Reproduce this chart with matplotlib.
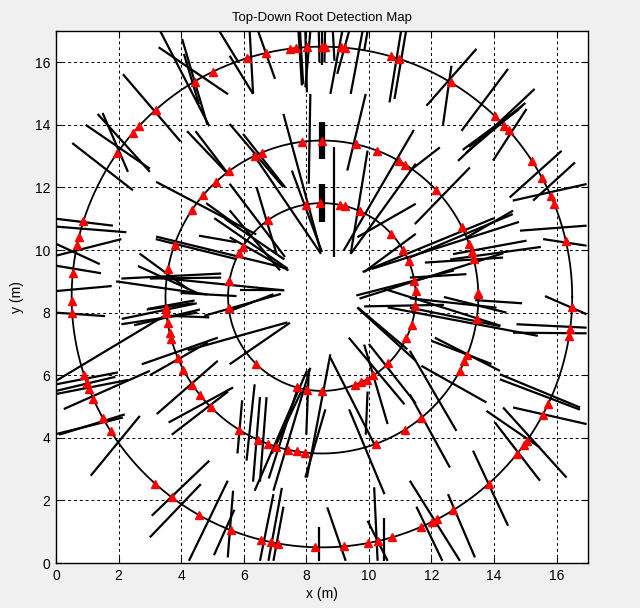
import numpy as np
import matplotlib
matplotlib.use("Agg")
import matplotlib.pyplot as plt
from matplotlib.collections import LineCollection

plt.rcParams['font.family'] = ['Liberation Sans', 'DejaVu Sans']

title = "Top-Down Root Detection Map"
x_label = "x (m)"
y_label = "y (m)"
x_ticks = [0, 2, 4, 6, 8, 10, 12, 14, 16]
y_ticks = [0, 2, 4, 6, 8, 10, 12, 14, 16]

center = (8.5, 8.5)
scan_radii = [3, 5, 8]

# detections (red triangles): angles in degrees on each scan circle
inner_angles = [3.7, 9.9, 22.3, 30, 42.5, 66, 76, 79, 91, 100, 125, 147.6, 151.8,
                170.3, 186.6, 225.8, 254.5, 260.8, 270.2, 290.7, 294.8, 298.4,
                303.3, 315, 333.8, 342.8, 354.3]
middle_angles = [1, 1.6, 14, 16.6, 19.9, 26.7, 43.2, 57.8, 60.6, 69.2, 77.6, 90, 97.5,
                 112.7, 115.5, 126.5, 132.5, 139.3, 146.2, 160.4, 169.8, 183.9, 185.7,
                 189.4, 193.2, 195.7, 203, 207.6, 214, 218.8, 224.8, 238, 245.8, 249.7,
                 252.9, 257.5, 260.7, 263.8, 290.4, 302, 309.1, 331.8, 335.7, 338.4, 351.8]
outer_angles = [13, 21.9, 23.9, 28.5, 33, 41.7, 43.2, 46.3, 59, 72, 74, 84.6, 85.7, 89.3,
                90, 93.4, 96, 97.3, 103, 107.5, 115.8, 120.6, 131.6, 137, 139, 144.8,
                162.3, 166.2, 168, 174.5, 181, 183.6, 198.2, 200, 201.6, 204, 209, 212.4,
                228.3, 233.2, 240.5, 248.6, 256, 258.3, 260, 268.5, 275, 280.6, 282.9,
                286.2, 293.2, 296.1, 297.3, 301.7, 311.8, 321.1, 323.8, 324.9, 332,
                334.8, 351, 352.6, 357.6]

# root segments (x0, y0, x1, y1)
roots_upper_left = [
    (3.33, 17.0, 4.9, 13.96), (3.28, 16.48, 5.5, 14.98), (4.03, 16.75, 4.84, 14.0),
    (4.09, 16.27, 4.57, 14.66), (5.22, 17.0, 5.8, 16.05), (2.14, 15.62, 3.98, 13.47),
    (1.33, 14.35, 3.0, 12.5), (1.49, 14.38, 2.3, 12.5), (0.95, 14.0, 3.0, 12.6),
    (0.52, 13.42, 2.46, 11.91), (3.2, 12.18, 6.4, 10.5), (4.19, 13.8, 5.43, 12.5),
    (4.46, 13.8, 5.53, 12.4), (0.0, 11.0, 1.82, 10.78), (0.0, 10.75, 2.25, 10.57),
    (0.0, 10.2, 1.4, 9.55), (0.0, 9.5, 1.44, 9.26), (0.0, 9.82, 2.09, 10.35),
    (0.0, 8.69, 1.78, 8.85), (1.92, 9.0, 4.84, 8.58), (2.62, 9.49, 4.51, 8.63),
    (3.0, 9.09, 5.28, 9.12), (3.19, 10.35, 5.77, 9.71), (4.57, 10.46, 5.77, 10.25),
    (3.98, 8.63, 5.77, 8.53), (4.8, 11.5, 5.77, 10.8),
]
roots_upper_mid = [
    (6.19, 17.0, 6.3, 14.99), (6.46, 17.0, 7.0, 15.47), (5.55, 16.21, 6.3, 14.99),
    (7.75, 17.0, 7.86, 15.26), (7.8, 17.0, 7.9, 15.3), (7.97, 17.0, 8.02, 15.04),
    (8.13, 17.0, 7.97, 15.2), (8.4, 17.0, 8.42, 16.0), (8.5, 17.0, 8.5, 15.9),
    (8.6, 17.0, 8.58, 16.0), (8.85, 17.0, 8.9, 16.05), (9.15, 17.0, 8.77, 14.99),
    (9.37, 17.0, 8.99, 15.63), (9.8, 17.0, 9.42, 14.99), (9.96, 17.0, 9.85, 16.36),
    (11.03, 17.0, 10.66, 14.72), (11.19, 17.0, 10.82, 14.83), (8.13, 14.99, 8.08, 12.12),
    (7.27, 14.35, 8.47, 9.94), (7.54, 12.54, 8.5, 9.94), (8.88, 13.29, 8.88, 9.78),
    (9.9, 14.99, 9.31, 12.54), (9.96, 13.18, 9.42, 9.88), (9.2, 9.99, 11.44, 13.84),
    (9.42, 9.88, 11.5, 12.76), (9.85, 9.3, 11.5, 10.52), (9.63, 10.41, 11.5, 11.48),
    (5.55, 14.03, 7.27, 12.01), (5.98, 13.71, 7.32, 12.01), (6.3, 13.07, 8.47, 9.88),
    (6.41, 12.01, 7.05, 9.88), (5.55, 12.12, 7.32, 9.78), (5.55, 11.27, 7.16, 9.35),
    (5.55, 10.41, 7.43, 9.35), (5.87, 8.71, 7.27, 8.71),
]
roots_upper_right = [
    (11.84, 14.61, 13.44, 16.43), (12.37, 14.0, 12.64, 15.89), (12.96, 13.81, 14.45, 15.79),
    (12.85, 12.85, 15.3, 15.15), (13.0, 13.2, 14.9, 14.6), (13.1, 13.1, 15.0, 14.7),
    (13.2, 13.3, 14.8, 14.5), (13.97, 12.86, 15.04, 14.51), (14.5, 11.68, 16.16, 13.17),
    (15.25, 11.58, 16.59, 12.8), (14.6, 11.58, 16.96, 12.11), (14.83, 10.62, 16.96, 10.78),
    (15.57, 10.35, 16.96, 10.14), (11.47, 10.83, 13.23, 12.64), (11.3, 12.53, 12.27, 13.28),
    (11.3, 9.76, 14.6, 11.15), (11.79, 9.6, 14.29, 9.76), (12.69, 9.87, 15.04, 10.3),
    (13.12, 10.4, 14.61, 11.26), (11.31, 9.12, 13.12, 9.23),
]
roots_center_left = [
    (2.09, 9.09, 5.28, 9.25), (3.04, 9.14, 7.3, 8.71), (2.67, 9.89, 4.21, 8.76),
    (3.2, 10.43, 7.4, 9.41), (5.06, 11.02, 7.4, 9.41), (5.4, 11.0, 7.3, 9.7),
    (4.74, 7.9, 7.19, 8.6), (2.94, 8.12, 4.43, 8.39), (2.1, 7.8, 4.5, 8.3),
    (2.5, 7.6, 4.6, 8.1), (4.21, 6.8, 7.4, 7.69),
]
roots_center_right = [
    (9.8, 9.3, 14.0, 11.02), (10.1, 9.4, 14.8, 10.9), (9.6, 8.55, 12.72, 9.35),
    (9.7, 8.45, 14.3, 9.9), (10.49, 8.76, 14.21, 7.58), (9.85, 8.2, 12.4, 8.25),
    (10.6, 8.17, 15.4, 7.26), (9.64, 8.17, 11.23, 6.83), (12.6, 9.7, 15.5, 10.1),
    (13.4, 8.4, 14.9, 8.3),
]
roots_lower_left = [
    (0.0, 8.0, 1.57, 7.89), (2.09, 7.63, 4.52, 8.0), (2.9, 8.1, 4.4, 8.3),
    (3.6, 7.9, 4.9, 7.85), (0.0, 5.82, 3.55, 7.95), (0.0, 5.71, 1.98, 6.09),
    (0.0, 5.5, 1.9, 5.95), (0.0, 5.4, 2.3, 5.85), (0.25, 4.92, 3.0, 6.14),
    (0.0, 4.12, 2.14, 4.65), (0.1, 4.1, 2.2, 4.75), (2.74, 6.35, 5.17, 7.2),
    (3.0, 6.0, 4.85, 7.05), (3.22, 4.76, 5.17, 6.46), (3.6, 4.49, 5.66, 5.61),
    (3.7, 4.1, 5.5, 5.48), (1.11, 2.79, 2.68, 4.7), (3.06, 1.51, 4.9, 3.27),
    (3.0, 0.82, 4.63, 2.52), (4.25, 0.07, 5.49, 2.63), (5.05, 0.25, 5.7, 1.7),
    (5.49, 0.18, 5.66, 2.31),
]
roots_lower_mid = [
    (5.55, 8.05, 6.95, 8.59), (5.55, 6.35, 7.48, 7.68), (9.63, 8.16, 11.5, 6.46),
    (9.36, 7.2, 11.14, 5.07), (9.85, 6.98, 10.6, 4.44), (10.0, 7.0, 11.5, 5.1),
    (8.77, 6.67, 8.02, 2.73), (8.77, 6.56, 10.23, 3.69), (8.13, 6.24, 6.95, 2.31),
    (8.02, 6.14, 6.35, 2.31), (7.85, 5.5, 6.9, 3.5), (7.7, 5.5, 6.8, 2.7),
    (8.08, 6.2, 8.0, 4.1), (8.61, 4.91, 7.97, 2.73), (9.37, 4.91, 10.5, 2.2),
    (9.96, 5.48, 9.9, 4.1), (6.35, 5.71, 6.09, 3.27), (6.52, 5.3, 6.3, 2.6),
    (6.73, 5.3, 6.52, 2.6), (5.95, 5.2, 5.8, 3.5), (6.95, 2.2, 6.52, 0.07),
    (7.22, 2.4, 6.79, 0.07), (7.27, 1.8, 6.95, 0.07), (8.4, 1.14, 8.4, 0.07),
    (8.67, 1.78, 9.26, 0.07), (10.17, 2.42, 10.28, 0.07), (9.96, 1.35, 10.6, 0.07),
    (10.5, 1.45, 10.5, 0.07),
]
roots_lower_right = [
    (11.31, 8.46, 14.08, 8.16), (11.31, 8.16, 14.19, 7.57), (12.4, 8.5, 14.4, 8.0),
    (15.63, 8.53, 16.96, 7.95), (14.72, 7.63, 16.96, 7.52), (14.61, 7.36, 16.96, 7.34),
    (12.11, 7.2, 14.19, 6.14), (12.0, 7.1, 13.92, 6.36), (11.68, 6.3, 13.76, 5.13),
    (14.19, 6.03, 16.75, 4.97), (14.19, 5.87, 16.75, 4.9), (11.31, 6.78, 12.8, 4.22),
    (11.31, 5.39, 12.59, 3.05), (14.61, 4.97, 16.96, 4.44), (14.29, 4.97, 16.32, 2.73),
    (13.76, 4.86, 15.47, 3.69), (14.03, 4.49, 15.47, 2.63), (13.33, 3.59, 14.45, 1.19),
    (12.53, 2.2, 13.39, 0.18), (11.31, 2.63, 12.91, 0.07), (11.52, 1.8, 12.35, 0.07),
]
# thick vertical root pieces (x, y_bottom, y_top)
thick_roots = [(8.5, 12.9, 14.1), (8.5, 10.9, 12.1)]

fig = plt.figure(figsize=(6.4, 6.08), dpi=100, facecolor='#f0f0f0')
ax = fig.add_axes([0.0875, 0.074, 0.831, 0.875])
ax.set_facecolor('white')

all_roots = (roots_upper_left + roots_upper_mid + roots_upper_right +
             roots_center_left + roots_center_right +
             roots_lower_left + roots_lower_mid + roots_lower_right)
segs = [[(a, b), (c, d)] for a, b, c, d in all_roots]
ax.add_collection(LineCollection(segs, colors='black', linewidths=1.6, zorder=3,
                                 capstyle='butt'))
for x, y0, y1 in thick_roots:
    ax.plot([x, x], [y0, y1], color='black', lw=4.5, solid_capstyle='butt', zorder=3)

t = np.linspace(0, 2 * np.pi, 400)
for r in scan_radii:
    ax.plot(center[0] + r * np.cos(t), center[1] + r * np.sin(t), color='black',
            lw=1.3, zorder=3)

for r, angs in zip(scan_radii, [inner_angles, middle_angles, outer_angles]):
    a = np.deg2rad(np.array(angs))
    ax.plot(center[0] + r * np.cos(a), center[1] + r * np.sin(a), linestyle='none',
            marker='^', color='red', markersize=6, zorder=4)

ax.set_xlim(0, 17)
ax.set_ylim(0, 17)
ax.set_xticks(x_ticks)
ax.set_yticks(y_ticks)
ax.grid(True, color='black', linestyle=(0, (3, 3)), linewidth=0.7, zorder=1)
ax.set_axisbelow(True)
ax.tick_params(direction='in', length=4, labelsize=10, colors='black', pad=4,
               top=True, right=True)
for s in ax.spines.values():
    s.set_linewidth(1.0)
ax.set_title(title, fontsize=9.5, pad=7)
ax.set_xlabel(x_label, fontsize=10, labelpad=3)
ax.set_ylabel(y_label, fontsize=10, labelpad=8)

fig.savefig('out.png', dpi=100, facecolor=fig.get_facecolor())
